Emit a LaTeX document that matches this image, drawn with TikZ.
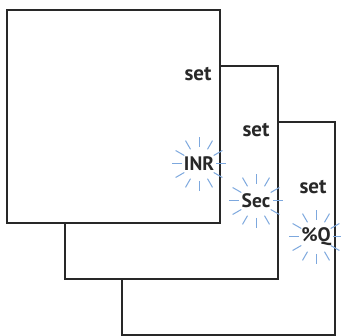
\documentclass[tikz,border=0pt]{standalone}
\usepackage{fontspec}
\setmainfont{PT Sans}
\usepackage{tikz}

\begin{document}
\begin{tikzpicture}[x=1pt,y=-1pt]
  \definecolor{ink}{RGB}{40,40,40}
  \definecolor{glow}{RGB}{125,168,222}
  \tikzset{page/.style={draw=ink,line width=1.1pt,fill=white},
    setlabel/.style={font=\bfseries\fontsize{21}{21}\selectfont,text=ink,inner sep=0pt},
    flashlabel/.style={font=\bfseries\fontsize{19.5}{19.5}\selectfont,text=ink,inner sep=0pt},
    ray/.style={draw=glow,line width=1pt}}
  \useasboundingbox (0,0) rectangle (341,336);
  % pages, back to front
  \foreach \x/\y in {122/122, 65/66, 7/10}
    \draw[page] (\x,\y) rectangle ++(213,213);
  % set labels
  \node[setlabel] (set1) at (198,74) {set};
  \node[setlabel] (set2) at (256,130) {set};
  \node[setlabel] (set3) at (313,187) {set};
  % flashing values
  \node[flashlabel] (inr) at (199,164) {INR};
  \node[flashlabel] (sec) at (256,201) {Sec};
  \node[flashlabel] (pq) at (316,237) {\%Q};
  \foreach \n in {inr,sec,pq}
    \foreach \a in {0,30,...,330}
      \draw[ray] (\n.center) ++(\a:17) -- ++(\a:10);
\end{tikzpicture}
\end{document}
